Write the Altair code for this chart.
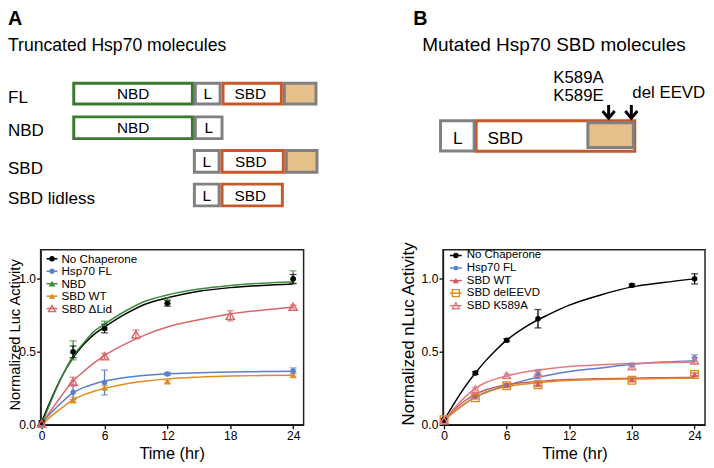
import altair as alt
import pandas as pd

M = 8            # page margin (page px -> chart px)
W, H = 706, 460  # chart size (fills the 714x468 window)
FONT = "Liberation Sans"

# ---------------- colours ----------------
BLACK, BLUE, GREEN, ORANGE, PINK = "#000000", "#5a7fd0", "#3d8b3d", "#e08a23", "#d9666b"
RED_B, PINK_B = "#cc5a60", "#e27b80"
DG, DGRAY, DORANGE, TAN = "#3a7a2e", "#808080", "#c8572a", "#e7bf8a"

# ---------------- Panel A data ----------------
A_series = ["No Chaperone", "Hsp70 FL", "NBD", "SBD WT", "SBD ΔLid"]
A_colors = [BLACK, BLUE, GREEN, ORANGE, PINK]
A_shapes = ["circle", "circle", "triangle-up", "triangle-up", "triangle-up"]
A_open = [False, False, False, False, True]
A_sizes = [32, 30, 45, 45, 70]

A_t = [0, 3, 6, 12, 24]
A_t_lid = [0, 3, 6, 9, 18, 24]
A_nochap = [0.018, 0.50, 0.66, 0.833, 1.00]
A_nochap_err = [0.01, 0.04, 0.03, 0.02, 0.03]
A_fl = [0.01, 0.223, 0.29, 0.348, 0.37]
A_fl_err = [0.005, 0.05, 0.085, 0.01, 0.02]
A_nbd = [0.0, 0.51, 0.68, 0.85, 1.01]
A_nbd_err = [0.005, 0.065, 0.03, 0.02, 0.045]
A_sbd = [0.0, 0.17, 0.255, 0.296, 0.343]
A_sbd_err = [0.005, 0.02, 0.015, 0.01, 0.02]
A_lid = [0.01, 0.296, 0.47, 0.62, 0.747, 0.81]
A_lid_err = [0.005, 0.03, 0.02, 0.03, 0.035, 0.01]

# fitted curves
fit_t = [0, 1, 2, 3, 4, 5, 6, 8, 10, 12, 15, 18, 21, 24]
A_fit_nochap = [0.02, 0.19, 0.34, 0.46, 0.55, 0.62, 0.67, 0.76, 0.83, 0.87, 0.915, 0.94, 0.955, 0.965]
A_fit_nbd = [0.0, 0.18, 0.34, 0.47, 0.56, 0.64, 0.69, 0.78, 0.85, 0.89, 0.93, 0.955, 0.97, 0.98]
A_fit_fl = [0.01, 0.09, 0.16, 0.22, 0.255, 0.28, 0.30, 0.325, 0.34, 0.35, 0.357, 0.362, 0.365, 0.367]
A_fit_sbd = [0.0, 0.065, 0.12, 0.172, 0.205, 0.23, 0.25, 0.28, 0.30, 0.315, 0.327, 0.334, 0.338, 0.34]
A_fit_lid = [0.01, 0.11, 0.21, 0.30, 0.365, 0.425, 0.475, 0.555, 0.62, 0.67, 0.72, 0.76, 0.785, 0.805]

# ---------------- Panel B data ----------------
B_series = ["No Chaperone", "Hsp70 FL", "SBD WT", "SBD delEEVD", "SBD K589A"]
B_colors = [BLACK, BLUE, RED_B, ORANGE, PINK_B]
B_shapes = ["circle", "circle", "triangle-up", "square", "triangle-up"]
B_open = [False, False, False, True, True]
B_sizes = [32, 26, 40, 60, 60]

B_t = [0, 3, 6, 9, 18, 24]
B_nochap = [0.034, 0.355, 0.58, 0.727, 0.956, 1.0]
B_nochap_err = [0.01, 0.01, 0.01, 0.063, 0.01, 0.035]
B_fl = [0.03, 0.195, 0.271, 0.345, 0.41, 0.458]
B_fl_err = [0.01, 0.01, 0.01, 0.03, 0.01, 0.022]
B_wt = [0.03, 0.205, 0.275, 0.28, 0.31, 0.345]
B_wt_err = [0.005, 0.01, 0.01, 0.01, 0.01, 0.01]
B_del = [0.035, 0.185, 0.268, 0.275, 0.305, 0.345]
B_del_err = [0.005, 0.01, 0.01, 0.01, 0.01, 0.01]
B_k589a = [0.03, 0.245, 0.339, 0.355, 0.40, 0.44]
B_k589a_err = [0.005, 0.01, 0.01, 0.01, 0.02, 0.02]

B_fit_nochap = [0.03, 0.15, 0.26, 0.355, 0.44, 0.515, 0.58, 0.68, 0.755, 0.82, 0.89, 0.945, 0.975, 1.0]
B_fit_fl = [0.03, 0.09, 0.145, 0.19, 0.225, 0.25, 0.27, 0.31, 0.34, 0.365, 0.39, 0.415, 0.43, 0.44]
B_fit_wt = [0.03, 0.105, 0.165, 0.208, 0.24, 0.26, 0.275, 0.292, 0.303, 0.31, 0.316, 0.32, 0.323, 0.325]
B_fit_del = [0.03, 0.09, 0.145, 0.19, 0.22, 0.245, 0.262, 0.282, 0.295, 0.303, 0.31, 0.314, 0.317, 0.32]
B_fit_k589a = [0.03, 0.115, 0.19, 0.25, 0.29, 0.315, 0.335, 0.365, 0.385, 0.40, 0.412, 0.42, 0.425, 0.43]

# ---------------- diagram text ----------------
A_letter, B_letter = "A", "B"
A_title = "Truncated Hsp70 molecules"
B_title = "Mutated Hsp70 SBD molecules"
A_rows = ["FL", "NBD", "SBD", "SBD lidless"]
A_ylabel, B_ylabel, X_label = "Normalized Luc Activity", "Normalized nLuc Activity", "Time (hr)"
B_mut_labels = ["K589A", "K589E", "del EEVD"]

# ---------------- layout (page px) ----------------
Y_RANGE = [427 - M, 249.8 - M]
A_XRANGE = [41 - M, 307 - M]
B_XRANGE = [448 - M, 713 - M]
X_DOMAIN = [-0.1, 25]
Y_DOMAIN = [0, 1.2]


def build_points(series, times, vals, errs, colors, shapes, opens, sizes, order):
    rows = []
    for i in order:
        for t, v, e in zip(times[i], vals[i], errs[i]):
            rows.append(dict(series=series[i], t=t, v=v, lo=v - e, hi=v + e, col=colors[i],
                             shape=shapes[i], open=opens[i], sz=sizes[i]))
    return pd.DataFrame(rows)


def build_fits(series, fits, colors):
    rows = []
    for s, f, c in zip(series, fits, colors):
        for t, v in zip(fit_t, f):
            rows.append(dict(series=s, t=t, v=v, col=c))
    return pd.DataFrame(rows)


def make_plot(pts, fits, x_range):
    xs = alt.Scale(domain=X_DOMAIN, range=x_range, nice=False, zero=False)
    ys = alt.Scale(domain=Y_DOMAIN, range=Y_RANGE, nice=False, zero=False)
    xax = alt.Axis(orient="bottom", offset=-(H - Y_RANGE[0]), values=[0, 6, 12, 18, 24],
                   title=None, grid=False, labelFlush=False)
    yax = alt.Axis(orient="left", offset=-x_range[0], values=[0, 0.5, 1.0], format=".1f",
                   title=None, grid=False, labelFlush=False)
    X = alt.X("t:Q", scale=xs, axis=xax)
    col = alt.Color("col:N", scale=None)
    caps = pd.concat([pts.assign(cap=pts["lo"]), pts.assign(cap=pts["hi"])])
    line = alt.Chart(fits).mark_line(interpolate="monotone", strokeWidth=1.5).encode(
        x=X, y=alt.Y("v:Q", scale=ys, axis=yax), color=col, detail="series:N")
    bars = alt.Chart(pts).mark_rule(strokeWidth=1.3).encode(
        x=X, y=alt.Y("lo:Q", scale=ys, axis=yax), y2="hi:Q", color=col)
    ticks = alt.Chart(caps).mark_tick(orient="horizontal", size=7, thickness=1.3).encode(
        x=X, y=alt.Y("cap:Q", scale=ys, axis=yax), color=col)
    filled = alt.Chart(pts[~pts["open"]]).mark_point(filled=True, opacity=1).encode(
        x=X, y=alt.Y("v:Q", scale=ys, axis=yax), color=col,
        shape=alt.Shape("shape:N", scale=None), size=alt.Size("sz:Q", scale=None))
    hollow = alt.Chart(pts[pts["open"]]).mark_point(filled=False, opacity=1, strokeWidth=1.4).encode(
        x=X, y=alt.Y("v:Q", scale=ys, axis=yax), color=col,
        shape=alt.Shape("shape:N", scale=None), size=alt.Size("sz:Q", scale=None))
    return alt.layer(line, bars, ticks, filled, hollow)


def PX(f):
    return alt.X(f, scale=None, axis=None)


def PY(f):
    return alt.Y(f, scale=None, axis=None)


def text_layer(rows, align="left", baseline="alphabetic", weight="normal", angle=0):
    df = pd.DataFrame(rows, columns=["text", "x", "y", "fs"])
    df["x"] = df["x"] - M
    df["y"] = df["y"] - M
    kw = dict(align=align, baseline=baseline, fontWeight=weight, font=FONT, color="black")
    if angle:
        kw["angle"] = angle
    return alt.Chart(df).mark_text(**kw).encode(
        x=PX("x:Q"), y=PY("y:Q"), text="text:N", size=alt.Size("fs:Q", scale=None))


def legend_layers(series, colors, shapes, opens, sizes, y0, dy, lx1, lx2, sx, tx, fs):
    df = pd.DataFrame(dict(label=series, col=colors, shape=shapes, open=opens, sz=sizes))
    df["y"] = [y0 + i * dy - M for i in range(len(series))]
    df["lx1"], df["lx2"], df["sx"], df["tx"] = lx1 - M, lx2 - M, sx - M, tx - M
    col = alt.Color("col:N", scale=None)
    rule = alt.Chart(df).mark_rule(strokeWidth=1.5).encode(x=PX("lx1:Q"), x2="lx2:Q", y=PY("y:Q"), color=col)
    sym_f = alt.Chart(df[~df["open"]]).mark_point(filled=True, opacity=1).encode(
        x=PX("sx:Q"), y=PY("y:Q"), color=col, shape=alt.Shape("shape:N", scale=None),
        size=alt.Size("sz:Q", scale=None))
    sym_o = alt.Chart(df[df["open"]]).mark_point(filled=False, opacity=1, strokeWidth=1.4).encode(
        x=PX("sx:Q"), y=PY("y:Q"), color=col, shape=alt.Shape("shape:N", scale=None),
        size=alt.Size("sz:Q", scale=None))
    txt = alt.Chart(df).mark_text(align="left", baseline="middle", font=FONT, fontSize=fs, color="black").encode(
        x=PX("tx:Q"), y=PY("y:Q"), text="label:N")
    return [rule, sym_o, sym_f, txt]


def frame(x_range):
    return alt.Chart(pd.DataFrame({"a": [0]})).mark_rect(fillOpacity=0, stroke="#222", strokeWidth=1.5).encode(
        x=alt.value(x_range[0]), x2=alt.value(x_range[1]), y=alt.value(Y_RANGE[1]), y2=alt.value(Y_RANGE[0]))


# ---------------- plots ----------------
ptsA = build_points(A_series, [A_t, A_t, A_t, A_t, A_t_lid],
                    [A_nochap, A_fl, A_nbd, A_sbd, A_lid],
                    [A_nochap_err, A_fl_err, A_nbd_err, A_sbd_err, A_lid_err],
                    A_colors, A_shapes, A_open, A_sizes, order=[2, 3, 1, 4, 0])
fitsA = build_fits(A_series, [A_fit_nochap, A_fit_fl, A_fit_nbd, A_fit_sbd, A_fit_lid], A_colors)
fitsA = pd.concat([fitsA[fitsA.series != "NBD"], fitsA[fitsA.series == "NBD"]])

ptsB = build_points(B_series, [B_t] * 5,
                    [B_nochap, B_fl, B_wt, B_del, B_k589a],
                    [B_nochap_err, B_fl_err, B_wt_err, B_del_err, B_k589a_err],
                    B_colors, B_shapes, B_open, B_sizes, order=[1, 2, 3, 4, 0])
fitsB = build_fits(B_series, [B_fit_nochap, B_fit_fl, B_fit_wt, B_fit_del, B_fit_k589a], B_colors)

plotA = make_plot(ptsA, fitsA, A_XRANGE)
plotB = make_plot(ptsB, fitsB, B_XRANGE)

# ---------------- schematic diagrams ----------------
row_y = {"FL": (80, 104), "NBD": (114, 139), "SBD": (148, 173), "SBD lidless": (182, 207)}
boxA = [  # row, label, x0, x1, stroke, fill
    ("FL", "L", 196, 224, DGRAY, "white"),
    ("FL", "NBD", 73, 196, DG, "white"),
    ("FL", "SBD", 224, 286, DORANGE, "white"),
    ("FL", "", 286, 321, DGRAY, TAN),
    ("NBD", "L", 196, 226, DGRAY, "white"),
    ("NBD", "NBD", 73, 196, DG, "white"),
    ("SBD", "L", 195, 223, DGRAY, "white"),
    ("SBD", "SBD", 223, 288, DORANGE, "white"),
    ("SBD", "", 288, 322, DGRAY, TAN),
    ("SBD lidless", "L", 195, 223, DGRAY, "white"),
    ("SBD lidless", "SBD", 223, 287, DORANGE, "white"),
]
rects = []
box_txt = []
for r, lab, x0, x1, st, fi in boxA:
    y0, y1 = row_y[r]
    rects.append(dict(x=x0 + 1.5 - M, x2=x1 - 1.5 - M, y=y0 + 1.5 - M, y2=y1 - 1.5 - M, stroke=st, fill=fi))
    if lab:
        dx = -2 if lab == "SBD" else 0
        box_txt.append((lab, (x0 + x1) / 2 + dx, (y0 + y1) / 2 + 5.6, 15.5))
# panel B schematic
rects.append(dict(x=481.5 - M, x2=642 - M, y=119.3 - M, y2=150.2 - M, stroke=DORANGE, fill="white"))
rects.append(dict(x=594.5 - M, x2=640.5 - M, y=121.5 - M, y2=146.5 - M, stroke=DGRAY, fill=TAN))
rects.append(dict(x=445.5 - M, x2=479.5 - M, y=119.5 - M, y2=150 - M, stroke=DGRAY, fill="white"))
rect_df = pd.DataFrame(rects)
diag = alt.Chart(rect_df).mark_rect(strokeWidth=3).encode(
    x=PX("x:Q"), x2="x2:Q", y=PY("y:Q"), y2="y2:Q",
    stroke=alt.Stroke("stroke:N", scale=None), fill=alt.Fill("fill:N", scale=None))

arrow_df = pd.DataFrame(dict(x=[615.5 - M, 638.5 - M], y=[103.5 - M, 103.5 - M], y2=[116 - M, 116 - M],
                             hy=[113.2 - M, 113.2 - M]))
shafts = alt.Chart(arrow_df).mark_rule(strokeWidth=3, color="black").encode(x=PX("x:Q"), y=PY("y:Q"), y2="y2:Q")
heads = alt.Chart(arrow_df).mark_point(shape="M-1,-0.6L0,0.6L1,-0.6", filled=False, strokeWidth=3,
                                       size=150, color="black", opacity=1).encode(x=PX("x:Q"), y=PY("hy:Q"))

texts = [
    text_layer([(A_letter, 8, 23, 20), (B_letter, 418, 23, 20)], weight="bold"),
    text_layer([(A_title, 8, 48.5, 17.8), (B_title, 427, 49, 19.2)]
               + [(lab, 8, b, 17.2) for lab, b in zip(A_rows, [101.5, 135, 173, 204])]
               + [("SBD", 493, 143, 17.5),
                  (B_mut_labels[0], 559.5, 81, 17), (B_mut_labels[1], 559.5, 99, 17),
                  (B_mut_labels[2], 639.5, 96.7, 17)]),
    text_layer(box_txt + [("L", 463, 143, 17.5)], align="center"),
    text_layer([(X_label, 174, 461.5, 16.5), (X_label, 581.5, 461.5, 16.5)], align="center"),
    text_layer([(A_ylabel, 23.2, 336, 14.8)], align="center", baseline="bottom", angle=270),
    text_layer([(B_ylabel, 414, 335, 17)], align="center", baseline="middle", angle=270),
]

legA = legend_layers(A_series, A_colors, A_shapes, A_open, [30, 28, 45, 40, 50],
                     259, 12.6, 47, 58, 52.5, 62, 11.8)
legB = legend_layers(B_series, B_colors, B_shapes, B_open, [30, 24, 40, 50, 50],
                     255.7, 12.7, 455, 467, 461, 472, 11.6)

chart = alt.layer(
    diag, shafts, heads, *texts,
    frame(A_XRANGE), frame(B_XRANGE),
    plotA, plotB, *legA, *legB,
).resolve_scale(x="independent", y="independent").properties(
    width=W, height=H, autosize=alt.AutoSizeParams(type="none"), padding=0
).configure_view(stroke=None).configure_axis(
    labelFont=FONT, labelFontSize=12.2, labelColor="black", domainColor="black", tickColor="black",
    domainWidth=1.3, tickWidth=1.3, tickSize=4, labelPadding=1.2
)

chart.save("out.html", embed_options={"renderer": "svg", "actions": False})
